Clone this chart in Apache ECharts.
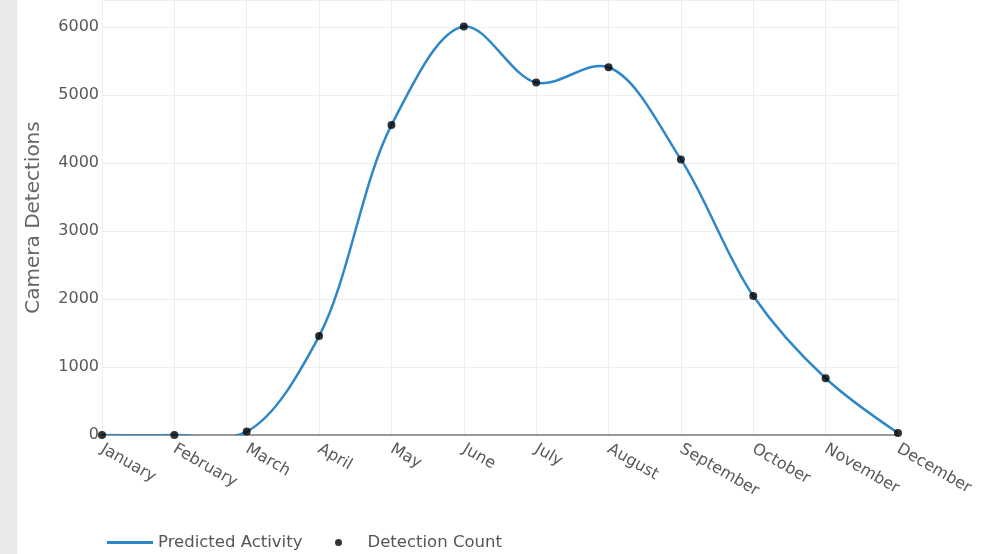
<!DOCTYPE html>
<html>
<head>
<meta charset="utf-8">
<script src="https://cdn.jsdelivr.net/npm/echarts@6/dist/echarts.min.js"></script>
<style>
html,body{margin:0;padding:0;background:#fff;}
#chart{width:996px;height:554px;}
</style>
</head>
<body>
<div id="chart"></div>
<script>
const months = ['January','February','March','April','May','June','July','August','September','October','November','December'];
const predictedActivity = [0, 0, 50, 1455, 4560, 6010, 5185, 5410, 4055, 2045, 835, 30];
const detectionCount = [0, 0, 50, 1455, 4560, 6010, 5185, 5410, 4055, 2045, 835, 30];
const yTickInterval = 1000;

const LINE_COLOR = '#2e88c8';
const FONT = '"DejaVu Sans", Verdana, sans-serif';

// Catmull-Rom style spline (same construction as a smoothing=1 spline)
function makeTangent(p0, p1, p2, s) {
  const d1x = p0[0] - p1[0], d1y = p0[1] - p1[1];
  const d2x = p2[0] - p1[0], d2y = p2[1] - p1[1];
  const d1a = Math.pow(d1x * d1x + d1y * d1y, 0.25);
  const d2a = Math.pow(d2x * d2x + d2y * d2y, 0.25);
  const numx = (d2a * d2a * d1x - d1a * d1a * d2x) * s;
  const numy = (d2a * d2a * d1y - d1a * d1a * d2y) * s;
  const den1 = 3 * d2a * (d1a + d2a);
  const den2 = 3 * d1a * (d1a + d2a);
  return [
    [p1[0] + (den1 ? numx / den1 : 0), p1[1] + (den1 ? numy / den1 : 0)],
    [p1[0] - (den2 ? numx / den2 : 0), p1[1] - (den2 ? numy / den2 : 0)]
  ];
}
function splinePath(pts, s) {
  const n = pts.length;
  let d = 'M' + pts[0][0] + ',' + pts[0][1];
  const t = [];
  for (let i = 1; i < n - 1; i++) t.push(makeTangent(pts[i - 1], pts[i], pts[i + 1], s));
  d += 'Q' + t[0][0][0] + ',' + t[0][0][1] + ' ' + pts[1][0] + ',' + pts[1][1];
  for (let i = 2; i < n - 1; i++) {
    d += 'C' + t[i - 2][1][0] + ',' + t[i - 2][1][1] + ' ' + t[i - 1][0][0] + ',' + t[i - 1][0][1] + ' ' + pts[i][0] + ',' + pts[i][1];
  }
  d += 'Q' + t[n - 3][1][0] + ',' + t[n - 3][1][1] + ' ' + pts[n - 1][0] + ',' + pts[n - 1][1];
  return d;
}

const chart = echarts.init(document.getElementById('chart'), null, {renderer: 'canvas'});
chart.setOption({
  animation: false,
  backgroundColor: '#fff',
  graphic: [
    {type: 'rect', shape: {x: 0, y: 0, width: 17, height: 554}, style: {fill: '#e9e9e9'}, z: -10}
  ],
  grid: {left: 102, right: 98, top: 0, bottom: 119, containLabel: false},
  xAxis: {
    type: 'category',
    data: months,
    boundaryGap: false,
    axisLine: {show: true, lineStyle: {color: '#999', width: 2}},
    axisTick: {show: false},
    axisLabel: {rotate: -30, margin: 13, color: '#585858', fontSize: 16, fontFamily: FONT, interval: 0},
    splitLine: {show: true, lineStyle: {color: '#eeeeee', width: 1}}
  },
  yAxis: {
    type: 'value',
    min: 0,
    max: 6400,
    interval: yTickInterval,
    name: 'Camera Detections',
    nameLocation: 'middle',
    nameGap: 58,
    nameTextStyle: {color: '#666', fontSize: 20, fontFamily: FONT},
    axisLine: {show: false},
    axisTick: {show: false},
    axisLabel: {showMaxLabel: false, margin: 3, color: '#585858', fontSize: 16, fontFamily: FONT,
      formatter: function (v) { return String(v); }},
    splitLine: {show: true, lineStyle: {color: '#eeeeee', width: 1}}
  },
  legend: [
    {
      data: [{name: 'Predicted Activity', icon: 'rect'}],
      left: 102, top: 529, padding: 5,
      itemWidth: 46, itemHeight: 3,
      textStyle: {color: '#555', fontSize: 16.5, fontFamily: FONT}
    },
    {
      data: [{name: 'Detection Count', icon: 'circle'}],
      left: 330, top: 529, padding: 5,
      itemWidth: 48, itemHeight: 7,
      textStyle: {color: '#555', fontSize: 16.5, fontFamily: FONT}
    }
  ],
  series: [
    {
      name: 'Predicted Activity',
      type: 'custom',
      data: [[0, 0]],
      itemStyle: {color: LINE_COLOR},
      clip: true,
      z: 2,
      renderItem: function (params, api) {
        if (params.dataIndex !== 0) return;
        const pts = predictedActivity.map(function (v, i) { return api.coord([i, v]); });
        return {
          type: 'path',
          shape: {pathData: splinePath(pts, 1)},
          style: {fill: 'none', stroke: LINE_COLOR, lineWidth: 2.5}
        };
      }
    },
    {
      name: 'Detection Count',
      type: 'scatter',
      data: detectionCount,
      symbol: 'circle',
      symbolSize: 8,
      itemStyle: {color: '#000'},
      z: 3
    }
  ]
});
</script>
</body>
</html>
